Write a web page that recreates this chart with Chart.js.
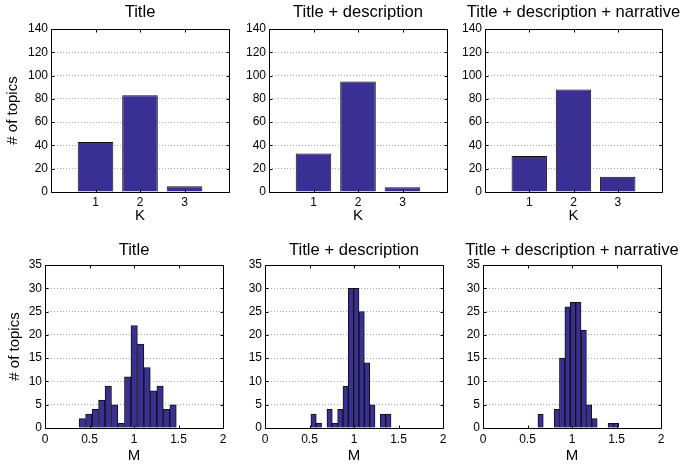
<!DOCTYPE html>
<html>
<head>
<meta charset="utf-8">
<title>Topics by K and M</title>
<script src="https://cdn.jsdelivr.net/npm/chart.js@4.4.1/dist/chart.umd.min.js"></script>
<style>
    html, body { margin: 0; padding: 0; background: #fff; overflow: hidden; }
    #page { position: relative; width: 683px; height: 466px; overflow: hidden; }
    canvas { position: absolute; }
</style>
</head>
<body>
<div id="page">
    <canvas id="kTitle"></canvas>
    <canvas id="kTitleDesc"></canvas>
    <canvas id="kTitleDescNarr"></canvas>
    <canvas id="mTitle"></canvas>
    <canvas id="mTitleDesc"></canvas>
    <canvas id="mTitleDescNarr"></canvas>
</div>
<script>
// panel titles
const panelTitles = ['Title', 'Title + description', 'Title + description + narrative'];

// top row: number of topics per K
const kValues = [1, 2, 3];
const kCountsTitle = [43, 83, 5];
const kCountsTitleDesc = [33, 95, 4];
const kCountsTitleDescNarr = [31, 88, 13];
const kYTicks = [0, 20, 40, 60, 80, 100, 120, 140];

// bottom row: histograms of M (bin centres)
const mCentersTitle = [0.419, 0.492, 0.565, 0.638, 0.711, 0.783, 0.856, 0.929, 1.002, 1.075, 1.147, 1.220, 1.293, 1.366, 1.439];
const mCountsTitle = [2, 3, 4, 6, 9, 5, 1, 11, 22, 18, 13, 8, 9, 4, 5];

const mCentersTitleDesc = [0.546, 0.606, 0.666, 0.726, 0.786, 0.846, 0.906, 0.966, 1.026, 1.086, 1.146, 1.206, 1.266, 1.326, 1.386];
const mCountsTitleDesc = [3, 1, 0, 4, 1, 4, 9, 30, 30, 25, 14, 5, 0, 3, 3];

const mCentersTitleDescNarr = [0.647, 0.708, 0.768, 0.829, 0.889, 0.950, 1.011, 1.071, 1.132, 1.192, 1.253, 1.314, 1.374, 1.435, 1.495];
const mCountsTitleDescNarr = [3, 0, 0, 4, 15, 26, 27, 27, 21, 5, 2, 0, 0, 1, 1];

const mXTicks = [0, 0.5, 1, 1.5, 2];
const mYTicks = [0, 5, 10, 15, 20, 25, 30, 35];

const FONT = "'Liberation Sans', Arial, Helvetica, sans-serif";
const BAR_FILL = '#3a2f93';
const BAR_EDGE = '#111111';

// MATLAB-like box with inward tick marks
const boxPlugin = {
    id: 'matlabBox',
    afterDatasetsDraw(chart) {
        const { ctx, chartArea: a, scales } = chart;
        const l = Math.round(a.left) + 0.5;
        const r = Math.round(a.right) + 0.5;
        const t = Math.round(a.top) + 0.5;
        const b = Math.round(a.bottom) + 0.5;
        ctx.save();
        ctx.strokeStyle = '#000';
        ctx.lineWidth = 1;
        ctx.beginPath();
        scales.x.ticks.forEach(tick => {
            const px = Math.round(scales.x.getPixelForValue(tick.value)) + 0.5;
            ctx.moveTo(px, b); ctx.lineTo(px, b - 3);
            ctx.moveTo(px, t); ctx.lineTo(px, t + 3);
        });
        scales.y.ticks.forEach(tick => {
            const py = Math.round(scales.y.getPixelForValue(tick.value)) + 0.5;
            ctx.moveTo(l, py); ctx.lineTo(l + 3, py);
            ctx.moveTo(r, py); ctx.lineTo(r - 3, py);
        });
        ctx.rect(l, t, r - l, b - t);
        ctx.stroke();
        ctx.restore();
    }
};

function placeCanvas(id, box) {
    const canvas = document.getElementById(id);
    canvas.width = box.width;
    canvas.height = box.height;
    canvas.style.left = box.left + 'px';
    canvas.style.top = box.top + 'px';
    return canvas.getContext('2d');
}

function renderPanel(id, box, cfg) {
    const ctx = placeCanvas(id, box);
    return new Chart(ctx, {
        type: 'bar',
        data: {
            datasets: [{
                data: cfg.xs.map((x, i) => ({ x: x, y: cfg.ys[i] })),
                backgroundColor: BAR_FILL,
                borderColor: BAR_EDGE,
                borderWidth: 1,
                barPercentage: cfg.barPct,
                categoryPercentage: 1,
                xAxisID: 'x',
                yAxisID: 'y'
            }]
        },
        options: {
            responsive: false,
            animation: false,
            devicePixelRatio: 1,
            layout: { padding: { left: 0, right: box.padRight, top: 0, bottom: box.padBottom } },
            plugins: {
                legend: { display: false },
                tooltip: { enabled: false },
                title: {
                    display: true,
                    text: cfg.title,
                    color: '#000',
                    font: { family: FONT, size: 16.6, weight: 'normal' },
                    padding: { top: box.titlePadTop, bottom: box.titlePadBottom }
                }
            },
            scales: {
                x: {
                    type: 'linear',
                    axis: 'x',
                    position: 'bottom',
                    offset: false,
                    min: cfg.xMin,
                    max: cfg.xMax,
                    afterBuildTicks: s => { s.ticks = cfg.xTicks.map(v => ({ value: v })); },
                    ticks: {
                        font: { family: FONT, size: 12 }, color: '#000', padding: box.tickPad, maxRotation: 0,
                        callback: v => String(v)
                    },
                    grid: { display: false, drawTicks: false },
                    border: { display: false },
                    title: {
                        display: true, text: cfg.xLabel, color: '#000',
                        font: { family: FONT, size: 15 }, padding: { top: 4, bottom: 4 }
                    },
                    afterFit: s => { s.height = box.xAxisHeight; }
                },
                y: {
                    type: 'linear',
                    position: 'left',
                    min: cfg.yTicks[0],
                    max: cfg.yTicks[cfg.yTicks.length - 1],
                    afterBuildTicks: s => { s.ticks = cfg.yTicks.map(v => ({ value: v })); },
                    ticks: { font: { family: FONT, size: 12 }, color: '#000', padding: 3, callback: v => String(v) },
                    grid: { color: '#a8a8a8', lineWidth: 1, drawTicks: false },
                    border: { display: false, dash: [1, 2] },
                    title: {
                        display: !!cfg.yLabel, text: cfg.yLabel || '', color: '#000',
                        font: { family: FONT, size: 15 }, padding: { top: box.yTitlePad, bottom: 0 }
                    },
                    afterFit: s => { s.width = box.yAxisWidth; }
                },
                // empty right axis, same width as the left one, so the title centres on the plot box
                yr: {
                    type: 'linear',
                    axis: 'y',
                    position: 'right',
                    display: true,
                    ticks: { display: false },
                    grid: { display: false, drawTicks: false },
                    border: { display: false },
                    afterFit: s => { s.width = box.yAxisWidth; }
                }
            }
        },
        plugins: [boxPlugin]
    });
}

// canvas frames so that the plot areas land where the reference has them
function topBox(areaLeft, areaRight, yAxisWidth, yTitlePad) {
    const left = areaLeft - yAxisWidth;
    return {
        left: left, top: 0, width: areaRight + yAxisWidth - left, height: 240,
        padRight: 0, padBottom: 11,
        yAxisWidth: yAxisWidth, yTitlePad: yTitlePad,
        titlePadTop: 2.84, titlePadBottom: 6.24, xAxisHeight: 37, tickPad: 3
    };
}

function bottomBox(areaLeft, areaRight, yAxisWidth, yTitlePad) {
    const left = areaLeft - yAxisWidth;
    return {
        left: left, top: 232, width: areaRight + yAxisWidth - left, height: 240,
        padRight: 0, padBottom: 3,
        yAxisWidth: yAxisWidth, yTitlePad: yTitlePad,
        titlePadTop: 8.04, titlePadBottom: 5.04, xAxisHeight: 41, tickPad: 4.4
    };
}

document.addEventListener('DOMContentLoaded', () => {
    const kBase = { xs: kValues, xMin: 0, xMax: 4, xTicks: kValues, yTicks: kYTicks, xLabel: 'K', barPct: 0.8 };
    renderPanel('kTitle', topBox(51, 229, 51, 4),
        { ...kBase, ys: kCountsTitle, title: panelTitles[0], yLabel: '# of topics' });
    renderPanel('kTitleDesc', topBox(269, 447, 40, 0),
        { ...kBase, ys: kCountsTitleDesc, title: panelTitles[1] });
    renderPanel('kTitleDescNarr', topBox(485, 662, 40, 0),
        { ...kBase, ys: kCountsTitleDescNarr, title: panelTitles[2] });

    const mBase = { xMin: 0, xMax: 2, xTicks: mXTicks, yTicks: mYTicks, xLabel: 'M', barPct: 1 };
    renderPanel('mTitle', bottomBox(45, 223, 45, 6),
        { ...mBase, xs: mCentersTitle, ys: mCountsTitle, title: panelTitles[0], yLabel: '# of topics' });
    renderPanel('mTitleDesc', bottomBox(265, 443, 40, 0),
        { ...mBase, xs: mCentersTitleDesc, ys: mCountsTitleDesc, title: panelTitles[1] });
    renderPanel('mTitleDescNarr', bottomBox(483, 661, 40, 0),
        { ...mBase, xs: mCentersTitleDescNarr, ys: mCountsTitleDescNarr, title: panelTitles[2] });
});
</script>
</body>
</html>
